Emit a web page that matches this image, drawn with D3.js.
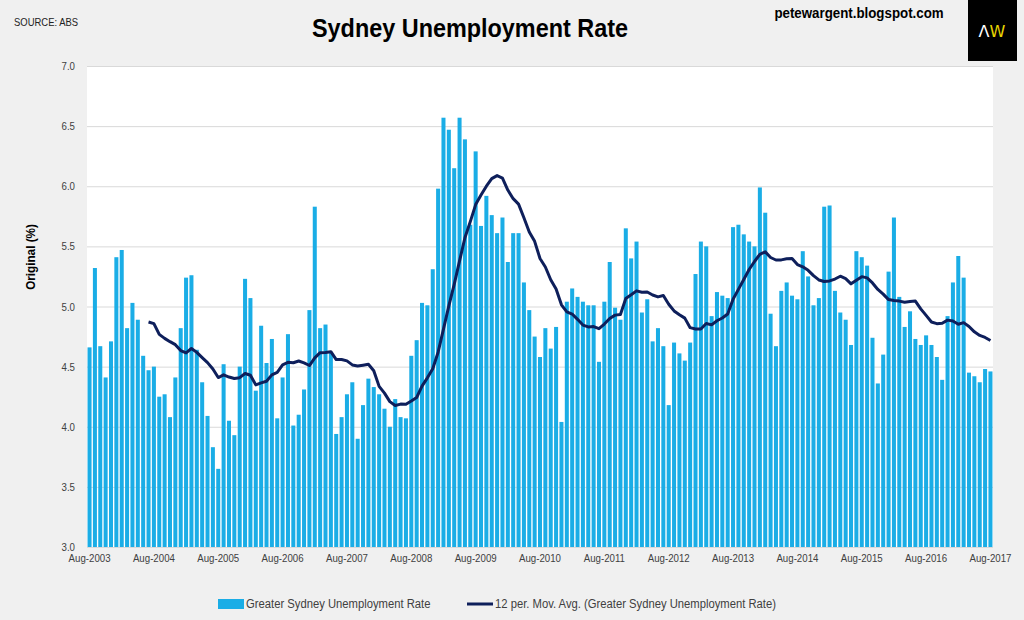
<!DOCTYPE html>
<html lang="en">
<head>
    <meta charset="UTF-8">
    <title>Sydney Unemployment Rate</title>
    <script src="https://d3js.org/d3.v7.min.js"></script>
    <style>
        body {
            margin: 0;
            background: #f0f0f0;
        }
        svg {
            display: block;
            font-family: "Liberation Sans Narrow", "Arial Narrow", "Liberation Sans", Arial, sans-serif;
        }
        .tick text {
            fill: #404040;
            font-size: 11px;
        }
        .grid line {
            stroke: #d9d9d9;
        }
        .legend-text {
            font-size: 12.5px;
            fill: #404040;
        }
    </style>
</head>
<body>
    <svg width="1024" height="620"></svg>
    <script>
        // Monthly series, Aug-2003 .. Aug-2017 (one row per Aug..Jul year)
        const rate = [
            4.66, 5.32, 4.67, 4.41, 4.71, 5.41, 5.47, 4.82, 5.03, 4.89, 4.59, 4.47,
            4.50, 4.25, 4.27, 4.08, 4.41, 4.82, 5.24, 5.26, 4.64, 4.37, 4.09, 3.83,
            3.65, 4.52, 4.05, 3.93, 4.50, 5.23, 5.07, 4.30, 4.84, 4.53, 4.73, 4.07,
            4.41, 4.77, 4.01, 4.10, 4.31, 4.97, 5.83, 4.82, 4.85, 4.62, 3.94, 4.08,
            4.27, 4.37, 3.90, 4.18, 4.40, 4.33, 4.27, 4.15, 4.00, 4.23, 4.08, 4.07,
            4.59, 4.72, 5.03, 5.01, 5.31, 5.98, 6.57, 6.47, 6.15, 6.57, 6.39, 5.68,
            6.29, 5.67, 5.92, 5.76, 5.61, 5.74, 5.37, 5.61, 5.61, 5.20, 4.97, 4.75,
            4.58, 4.82, 4.65, 4.83, 4.04, 5.04, 5.15, 5.08, 5.04, 5.01, 5.01, 4.54,
            5.04, 5.37, 4.99, 4.89, 5.65, 5.40, 5.54, 4.95, 5.06, 4.71, 4.82, 4.67,
            4.18, 4.70, 4.61, 4.55, 4.70, 5.27, 5.54, 5.50, 4.92, 5.12, 5.09, 5.07,
            5.66, 5.68, 5.60, 5.54, 5.50, 5.99, 5.78, 4.94, 4.67, 5.13, 5.20, 5.09,
            5.06, 5.46, 5.25, 5.01, 5.07, 5.83, 5.84, 5.13, 4.95, 4.89, 4.68, 5.46,
            5.41, 5.34, 4.74, 4.36, 4.60, 5.29, 5.74, 5.08, 4.83, 4.96, 4.73, 4.68,
            4.76, 4.68, 4.58, 4.39, 4.92, 5.20, 5.42, 5.24, 4.45, 4.42, 4.37, 4.48,
            4.46
        ];

        const months = d3.timeMonth.range(new Date(2003, 7, 1), new Date(2017, 8, 1));
        const fmtMonth = d3.timeFormat("%b-%Y");

        const xTickLabels = ["Aug-2003", "Aug-2004", "Aug-2005", "Aug-2006", "Aug-2007",
            "Aug-2008", "Aug-2009", "Aug-2010", "Aug-2011", "Aug-2012", "Aug-2013",
            "Aug-2014", "Aug-2015", "Aug-2016", "Aug-2017"];
        const yTicks = [3.0, 3.5, 4.0, 4.5, 5.0, 5.5, 6.0, 6.5, 7.0];

        const barName = "Greater Sydney Unemployment Rate";
        const lineName = "12 per. Mov. Avg. (Greater Sydney Unemployment Rate)";

        const data = months.map((m, i) => ({ label: fmtMonth(m), value: rate[i] }));

        // Excel-style 12 period trailing moving average trendline
        const period = 12;
        const avgData = data.slice(period - 1).map((d, j) => ({
            label: d.label,
            value: d3.mean(rate.slice(j, j + period))
        }));

        const plot = { left: 87, right: 993, top: 66, bottom: 547 };

        const svg = d3.select("svg");

        // squeeze text horizontally, no narrow font installed
        function narrow(sel, k) {
            sel.each(function() {
                const w = this.getComputedTextLength();
                this.setAttribute("textLength", w * k);
                this.setAttribute("lengthAdjust", "spacingAndGlyphs");
            });
        }

        const x = d3.scaleBand()
                    .domain(data.map(d => d.label))
                    .range([plot.left, plot.right])
                    .paddingInner(0.25)
                    .paddingOuter(0.1);

        const y = d3.scaleLinear()
                    .domain([3, 7])
                    .range([plot.bottom, plot.top]);

        // Plot background
        svg.append("rect")
           .attr("x", plot.left)
           .attr("y", plot.top)
           .attr("width", plot.right - plot.left)
           .attr("height", plot.bottom - plot.top)
           .attr("fill", "#ffffff");

        // Gridlines
        svg.append("g")
           .attr("class", "grid")
           .attr("transform", `translate(${plot.left},0)`)
           .call(d3.axisLeft(y).tickValues(yTicks).tickSize(-(plot.right - plot.left)).tickFormat(""))
           .call(g => g.select(".domain").remove());

        // Bars
        svg.append("g")
           .selectAll("rect")
           .data(data)
           .join("rect")
           .attr("x", d => x(d.label))
           .attr("y", d => y(d.value))
           .attr("width", x.bandwidth())
           .attr("height", d => y(3) - y(d.value))
           .attr("fill", "#1aade6");

        // Moving average line
        const line = d3.line()
                       .x(d => x(d.label) + x.bandwidth() / 2)
                       .y(d => y(d.value));

        svg.append("path")
           .datum(avgData)
           .attr("d", line)
           .attr("fill", "none")
           .attr("stroke", "#0e1f5b")
           .attr("stroke-width", 3)
           .attr("stroke-linejoin", "round");

        // Y axis
        svg.append("g")
           .attr("transform", `translate(${plot.left - 9},0)`)
           .call(d3.axisLeft(y).tickValues(yTicks).tickSize(0).tickFormat(d3.format(".1f")))
           .call(g => g.select(".domain").remove())
           .call(g => narrow(g.selectAll("text"), 0.88));

        // X axis
        svg.append("g")
           .attr("transform", `translate(0,${plot.bottom + 4})`)
           .call(d3.axisBottom(x).tickValues(xTickLabels).tickSize(0))
           .call(g => g.select(".domain").remove())
           .call(g => narrow(g.selectAll("text"), 0.88));

        // Axis title
        svg.append("text")
           .attr("transform", "translate(35,257) rotate(-90)")
           .attr("text-anchor", "middle")
           .style("font-size", "13px")
           .style("font-weight", "bold")
           .text("Original (%)")
           .call(narrow, 0.9);

        // Header texts
        svg.append("text")
           .attr("x", 470)
           .attr("y", 37)
           .attr("text-anchor", "middle")
           .style("font-size", "26px")
           .style("font-weight", "bold")
           .text("Sydney Unemployment Rate")
           .call(narrow, 0.9);

        svg.append("text")
           .attr("x", 14)
           .attr("y", 26)
           .style("font-size", "10.5px")
           .style("fill", "#222")
           .text("SOURCE: ABS")
           .call(narrow, 0.9);

        svg.append("text")
           .attr("x", 859)
           .attr("y", 18)
           .attr("text-anchor", "middle")
           .style("font-size", "14px")
           .style("font-weight", "bold")
           .text("petewargent.blogspot.com")
           .call(narrow, 0.95);

        // Logo box
        svg.append("rect")
           .attr("x", 968)
           .attr("y", 0)
           .attr("width", 49)
           .attr("height", 61)
           .attr("fill", "#000");

        const logo = svg.append("text")
           .attr("x", 992)
           .attr("y", 37)
           .attr("text-anchor", "middle")
           .style("font-family", "'DejaVu Sans', sans-serif")
           .style("font-size", "16px");
        logo.append("tspan").attr("fill", "#ffffff").text("Λ");
        logo.append("tspan").attr("fill", "#e8d400").text("W");

        // Legend
        const legend = svg.append("g");
        legend.append("rect")
              .attr("x", 218)
              .attr("y", 599)
              .attr("width", 26)
              .attr("height", 10)
              .attr("fill", "#1aade6");
        legend.append("text")
              .attr("class", "legend-text")
              .attr("x", 246)
              .attr("y", 608)
              .text(barName)
              .call(narrow, 0.9);
        legend.append("line")
              .attr("x1", 467)
              .attr("x2", 493)
              .attr("y1", 604)
              .attr("y2", 604)
              .attr("stroke", "#0e1f5b")
              .attr("stroke-width", 3);
        legend.append("text")
              .attr("class", "legend-text")
              .attr("x", 495)
              .attr("y", 608)
              .text(lineName)
              .call(narrow, 0.9);
    </script>
</body>
</html>
